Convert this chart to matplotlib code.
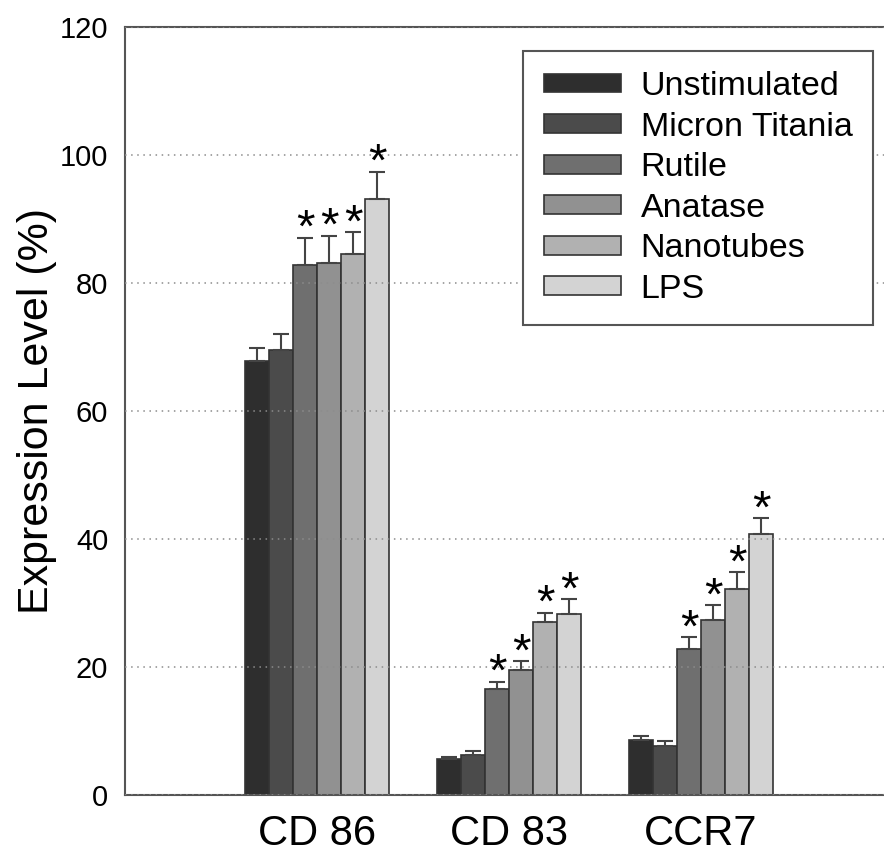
import matplotlib
matplotlib.use('Agg')
import matplotlib.pyplot as plt
import numpy as np

# Marker groups and treatments
markers = ['CD 86', 'CD 83', 'CCR7']
treatments = ['Unstimulated', 'Micron Titania', 'Rutile', 'Anatase', 'Nanotubes', 'LPS']

# Mean expression (%) per treatment, one list per marker group
cd86 = [67.8, 69.6, 82.8, 83.2, 84.6, 93.2]
cd83 = [5.6, 6.3, 16.6, 19.5, 27.1, 28.3]
ccr7 = [8.6, 7.7, 22.8, 27.3, 32.2, 40.8]

# Upper error (SD) per treatment
cd86_err = [2.1, 2.5, 4.3, 4.2, 3.3, 4.2]
cd83_err = [0.4, 0.5, 1.1, 1.4, 1.4, 2.3]
ccr7_err = [0.6, 0.7, 1.9, 2.4, 2.6, 2.5]

# Significance flags (* above bar)
cd86_sig = [0, 0, 1, 1, 1, 1]
cd83_sig = [0, 0, 1, 1, 1, 1]
ccr7_sig = [0, 0, 1, 1, 1, 1]

colors = ['#2e2e2e', '#4b4b4b', '#6f6f6f', '#919191', '#b1b1b1', '#d3d3d3']

plt.rcParams['font.family'] = ['Liberation Sans', 'DejaVu Sans']

fig = plt.figure(figsize=(8.84, 8.57), dpi=100)
ax = fig.add_axes([125 / 884, 62 / 857, 759 / 884, 768 / 857])

means = np.array([cd86, cd83, ccr7])
errs = np.array([cd86_err, cd83_err, ccr7_err])
sigs = np.array([cd86_sig, cd83_sig, ccr7_sig])

x = np.arange(1, len(markers) + 1)
width = 0.125
offsets = (np.arange(len(treatments)) - (len(treatments) - 1) / 2) * width

for i, name in enumerate(treatments):
    ax.bar(x + offsets[i], means[:, i], width, color=colors[i],
           edgecolor='#333333', linewidth=1.2, label=name, zorder=2)
    ax.errorbar(x + offsets[i], means[:, i], yerr=[np.zeros(3), errs[:, i]],
                fmt='none', ecolor='#444444', elinewidth=1.5, capsize=6,
                capthick=1.5, zorder=3)
    for j in range(len(markers)):
        if sigs[j, i]:
            ax.text(x[j] + offsets[i], means[j, i] + errs[j, i] - 0.7, '*',
                    ha='center', va='baseline', fontsize=34, zorder=4)

ax.set_xlim(0, 759 / 192)
ax.set_ylim(0, 120)
ax.set_yticks(np.arange(0, 121, 20))
ax.set_xticks(x)
ax.set_xticklabels(markers, fontsize=30)
ax.tick_params(axis='y', length=0, pad=12, labelsize=21)
ax.tick_params(axis='x', length=0, pad=14)
ax.set_ylabel('Expression Level (%)', fontsize=31)
ax.yaxis.set_label_coords(-0.0896, 0.5)

ax.yaxis.grid(True, linestyle=(0, (1, 3)), color='#8c8c8c', linewidth=1.1, zorder=2.5)
ax.set_axisbelow(False)

for side in ['left', 'top', 'bottom']:
    ax.spines[side].set_color('#555555')
    ax.spines[side].set_linewidth(1.5)
ax.spines['right'].set_visible(False)

leg = ax.legend(loc='upper right', bbox_to_anchor=(0.9855, 0.969), borderaxespad=0,
                fontsize=24.5, fancybox=False, framealpha=1, edgecolor='#555555',
                handlelength=2.26, handleheight=0.47, handletextpad=0.59,
                labelspacing=0.28, borderpad=0.6)
leg.get_frame().set_linewidth(1.5)
leg.set_zorder(5)

fig.savefig('out.png', dpi=100)
